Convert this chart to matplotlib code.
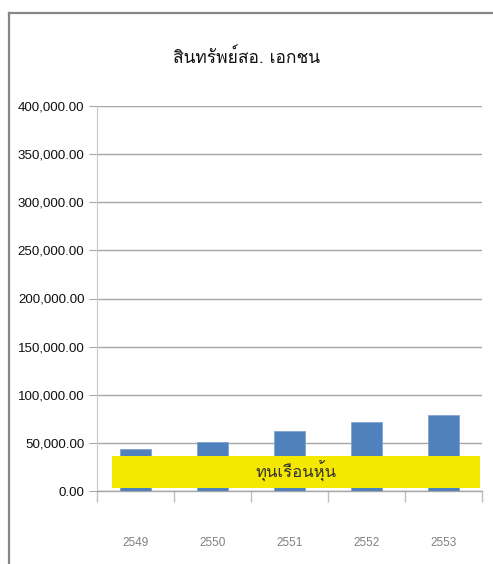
import matplotlib

matplotlib.use("Agg")
import matplotlib.pyplot as plt
from matplotlib import font_manager
from matplotlib.ft2font import FT2Font
from matplotlib.lines import Line2D
from matplotlib.patches import Rectangle
from matplotlib.ticker import FuncFormatter, MultipleLocator

YEARS = ["2549", "2550", "2551", "2552", "2553"]
ASSETS = [44000, 51000, 62300, 71400, 79300]

TITLE = "สินทรัพย์สอ. เอกชน"
BOX_LABEL = "ทุนเรือนหุ้น"

BAR = "#4F81BD"
GRID = "#A6A6A6"
FRAME = "#878787"
YELLOW = "#F5E800"


def thai_family():
    # first installed face that carries Thai glyphs
    for entry in font_manager.fontManager.ttflist:
        try:
            cmap = FT2Font(entry.fname).get_charmap()
        except Exception:
            continue
        if 0x0E2A in cmap and 0x0E19 in cmap:
            return entry.name
    return "DejaVu Sans"


THAI = [thai_family(), "DejaVu Sans"]
NARROW = ["Liberation Sans", "DejaVu Sans"]

fig = plt.figure(figsize=(4.93, 5.64), dpi=100, facecolor="white")
ax = fig.add_axes([97 / 493, 1 - 491 / 564, 385 / 493, 385 / 564])

x = range(len(YEARS))
ax.bar(x, ASSETS, width=0.4, color=BAR, edgecolor="#7FA3D0", linewidth=0.6, zorder=3)

ax.set_xlim(-0.5, len(YEARS) - 0.5)
ax.set_ylim(0, 400000)
ax.yaxis.set_major_locator(MultipleLocator(50000))
ax.yaxis.set_major_formatter(FuncFormatter(lambda v, _: f"{v:,.2f}"))
ax.grid(True, axis="y", color=GRID, lw=1.0, zorder=0)
ax.set_axisbelow(True)

for side in ("top", "right"):
    ax.spines[side].set_visible(False)
ax.spines["left"].set_color("#C8C8C8")
ax.spines["bottom"].set_color(GRID)
ax.spines["bottom"].set_linewidth(1.0)

ax.set_xticks([i + 0.5 for i in range(-1, len(YEARS))], minor=False)
ax.set_xticklabels([])
ax.set_xticks(list(x), minor=True)
ax.set_xticklabels(YEARS, minor=True)
ax.tick_params(axis="x", which="major", length=8, color="#BFBFBF", width=1.0)
ax.tick_params(axis="x", which="minor", length=0, pad=33, labelsize=8.5, labelcolor="#808080")
ax.tick_params(axis="y", length=6, color=GRID, labelsize=9.6, labelcolor="#111111", pad=3)
for lab in ax.get_xticklabels(minor=True) + ax.get_yticklabels():
    lab.set_family(NARROW)

# share-capital band laid over the lower part of the bars
ax.add_patch(Rectangle((-0.305, 3400), 4.78, 33300, facecolor=YELLOW, edgecolor="none",
                       zorder=5, clip_on=False))
ax.text(2.08, 20800, BOX_LABEL, ha="center", va="center", fontsize=12,
        color="#333333", family=THAI, zorder=6)

fig.text(0.5, 1 - 58 / 564, TITLE, ha="center", va="center", fontsize=12.5,
         color="#111111", family=THAI)

# chart frame: top and left edges
fx, fy = 9 / 493, 1 - 13 / 564
fig.add_artist(Line2D([fx, 1.0], [fy, fy], color=FRAME, lw=1.6))
fig.add_artist(Line2D([fx, fx], [0.0, fy], color=FRAME, lw=1.6))

fig.savefig("out.png", dpi=100, facecolor="white")
